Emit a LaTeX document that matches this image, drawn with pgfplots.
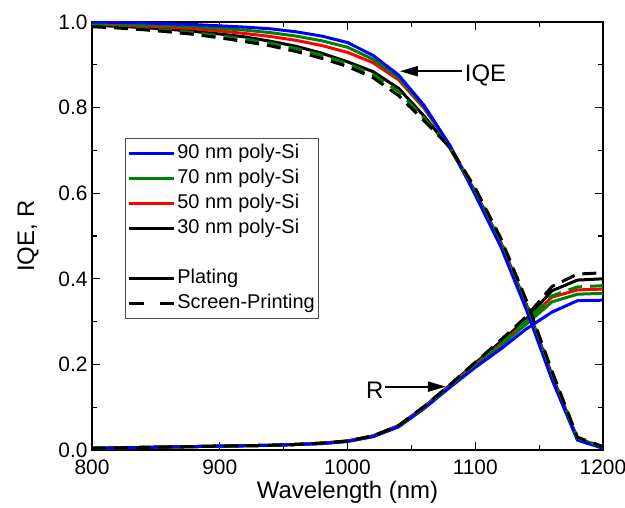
\documentclass[border=0pt]{standalone}
\usepackage{fontspec}
\setmainfont{Liberation Sans}
\usepackage{pgfplots}
\usepackage{pgfplotstable}
\pgfplotsset{compat=1.18}
\usetikzlibrary{arrows.meta}

\definecolor{cblue}{RGB}{0,0,255}
\definecolor{cgreen}{RGB}{0,128,0}
\definecolor{cred}{RGB}{255,0,0}

% wavelength, IQE, R
\pgfplotstableread{
x iqe r
800 1.000 0.004
820 0.999 0.005
840 0.998 0.006
860 0.996 0.007
880 0.994 0.008
900 0.991 0.009
920 0.988 0.010
940 0.984 0.011
960 0.977 0.013
980 0.967 0.015
1000 0.952 0.020
1020 0.922 0.031
1040 0.876 0.054
1060 0.805 0.097
1080 0.712 0.146
1100 0.596 0.193
1120 0.475 0.236
1140 0.328 0.283
1160 0.165 0.322
1180 0.023 0.349
1200 0.004 0.350
}\ninetypl

\pgfplotstableread{
x iqe r
800 0.997 0.004
820 0.996 0.005
840 0.994 0.006
860 0.992 0.007
880 0.989 0.008
900 0.985 0.009
920 0.981 0.010
940 0.975 0.011
960 0.967 0.013
980 0.956 0.015
1000 0.941 0.020
1020 0.913 0.032
1040 0.870 0.055
1060 0.801 0.099
1080 0.712 0.148
1100 0.600 0.197
1120 0.479 0.244
1140 0.333 0.294
1160 0.168 0.346
1180 0.025 0.364
1200 0.005 0.366
}\seventypl

\pgfplotstableread{
x iqe r
800 0.995 0.004
820 0.993 0.005
840 0.991 0.006
860 0.988 0.007
880 0.984 0.008
900 0.979 0.009
920 0.973 0.010
940 0.966 0.011
960 0.957 0.013
980 0.945 0.016
1000 0.929 0.021
1020 0.905 0.033
1040 0.865 0.056
1060 0.798 0.100
1080 0.712 0.150
1100 0.603 0.200
1120 0.483 0.248
1140 0.337 0.300
1160 0.171 0.357
1180 0.026 0.374
1200 0.006 0.376
}\fiftypl

\pgfplotstableread{
x iqe r
800 0.992 0.004
820 0.990 0.005
840 0.987 0.006
860 0.983 0.007
880 0.978 0.008
900 0.972 0.009
920 0.965 0.010
940 0.955 0.011
960 0.943 0.013
980 0.927 0.016
1000 0.907 0.021
1020 0.884 0.033
1040 0.845 0.057
1060 0.780 0.101
1080 0.706 0.151
1100 0.603 0.203
1120 0.485 0.253
1140 0.340 0.306
1160 0.175 0.372
1180 0.027 0.397
1200 0.006 0.400
}\thirtypl

\pgfplotstableread{
x iqe r
800 0.990 0.004
820 0.988 0.005
840 0.985 0.006
860 0.980 0.007
880 0.975 0.008
900 0.968 0.009
920 0.960 0.010
940 0.950 0.011
960 0.938 0.013
980 0.922 0.016
1000 0.903 0.021
1020 0.877 0.033
1040 0.838 0.056
1060 0.775 0.100
1080 0.708 0.150
1100 0.607 0.201
1120 0.490 0.250
1140 0.345 0.302
1160 0.180 0.360
1180 0.028 0.381
1200 0.007 0.384
}\seventysp

\pgfplotstableread{
x iqe r
800 0.989 0.004
820 0.986 0.005
840 0.982 0.006
860 0.977 0.007
880 0.971 0.008
900 0.963 0.009
920 0.954 0.010
940 0.944 0.011
960 0.931 0.013
980 0.915 0.016
1000 0.896 0.021
1020 0.870 0.033
1040 0.828 0.057
1060 0.769 0.102
1080 0.708 0.152
1100 0.612 0.205
1120 0.495 0.257
1140 0.350 0.312
1160 0.185 0.382
1180 0.030 0.411
1200 0.008 0.414
}\thirtysp

\begin{document}
\begin{tikzpicture}
\begin{axis}[
    scale only axis,
    width=511bp, height=428bp,
    xmin=800, xmax=1200,
    ymin=0, ymax=1,
    xtick={800,900,1000,1100,1200},
    ytick={0,0.2,0.4,0.6,0.8,1},
    minor x tick num=1,
    minor y tick num=1,
    tick align=inside,
    major tick length=8bp,
    minor tick length=5bp,
    tick style={black, line width=1.1bp},
    axis line style={black, line width=1.3bp},
    /pgf/number format/assume math mode=true,
    /pgf/number format/1000 sep={},
    ticklabel style={font=\fontsize{21}{25}\selectfont},
    xticklabel style={yshift=-6bp},
    yticklabel style={xshift=-1bp, /pgf/number format/fixed, /pgf/number format/fixed zerofill, /pgf/number format/precision=1},
    xlabel={Wavelength (nm)},
    ylabel={IQE, R},
    label style={font=\fontsize{24}{28}\selectfont},
    xlabel style={yshift=-2bp, inner sep=1bp},
    ylabel style={yshift=13bp},
    legend cell align=left,
    legend style={
        at={(rel axis cs:0.0646,0.729)}, anchor=north west,
        draw=black!70, line width=0.8bp,
        font=\fontsize{20}{24}\selectfont,
        inner xsep=2bp, inner ysep=4bp,
        row sep=3bp,
        nodes={inner sep=2bp, text height=14bp, text depth=4bp},
    },
    legend image code/.code={\draw[#1] (0bp,0bp) -- (45bp,0bp);},
]

% plating (solid)
\addplot[black, line width=3bp, forget plot] table[x=x, y=iqe] {\thirtypl};
\addplot[black, line width=3bp, forget plot] table[x=x, y=r] {\thirtypl};
\addplot[cred, line width=3bp, forget plot] table[x=x, y=iqe] {\fiftypl};
\addplot[cred, line width=3bp, forget plot] table[x=x, y=r] {\fiftypl};
\addplot[cgreen, line width=3bp, forget plot] table[x=x, y=iqe] {\seventypl};
\addplot[cgreen, line width=3bp, forget plot] table[x=x, y=r] {\seventypl};
\addplot[cblue, line width=3bp, forget plot] table[x=x, y=iqe] {\ninetypl};
\addplot[cblue, line width=3bp, forget plot] table[x=x, y=r] {\ninetypl};

% screen-printing (dashed)
\addplot[cgreen, line width=3bp, dash pattern=on 14bp off 8bp, forget plot] table[x=x, y=iqe] {\seventysp};
\addplot[cgreen, line width=3bp, dash pattern=on 14bp off 8bp, forget plot] table[x=x, y=r] {\seventysp};
\addplot[black, line width=3bp, dash pattern=on 14bp off 8bp, forget plot] table[x=x, y=iqe] {\thirtysp};
\addplot[black, line width=3bp, dash pattern=on 14bp off 8bp, forget plot] table[x=x, y=r] {\thirtysp};

\addlegendimage{cblue, line width=3bp}
\addlegendentry{90 nm poly-Si}
\addlegendimage{cgreen, line width=3bp}
\addlegendentry{70 nm poly-Si}
\addlegendimage{cred, line width=3bp}
\addlegendentry{50 nm poly-Si}
\addlegendimage{black, line width=3bp}
\addlegendentry{30 nm poly-Si}
\addlegendimage{empty legend}
\addlegendentry{}
\addlegendimage{black, line width=3bp}
\addlegendentry{Plating}
\addlegendimage{black, line width=3bp, dash pattern=on 15bp off 16bp}
\addlegendentry{Screen-Printing}

% annotations
\draw[-{Triangle[length=18bp, width=10bp]}, line width=2bp] (axis cs:1090,0.885) -- (axis cs:1041,0.885);
\node[anchor=west, inner sep=1bp, font=\fontsize{24}{28}\selectfont] at (axis cs:1091,0.876) {IQE};
\draw[-{Triangle[length=18bp, width=10bp]}, line width=2bp] (axis cs:1029,0.148) -- (axis cs:1077,0.148);
\node[anchor=east, inner sep=1bp, font=\fontsize{24}{28}\selectfont] at (axis cs:1029,0.140) {R};
\end{axis}
\pgfresetboundingbox
\path[use as bounding box] ([shift={(-92bp,-58bp)}]current axis.south west) rectangle ([shift={(22bp,22bp)}]current axis.north east);
\end{tikzpicture}
\end{document}
